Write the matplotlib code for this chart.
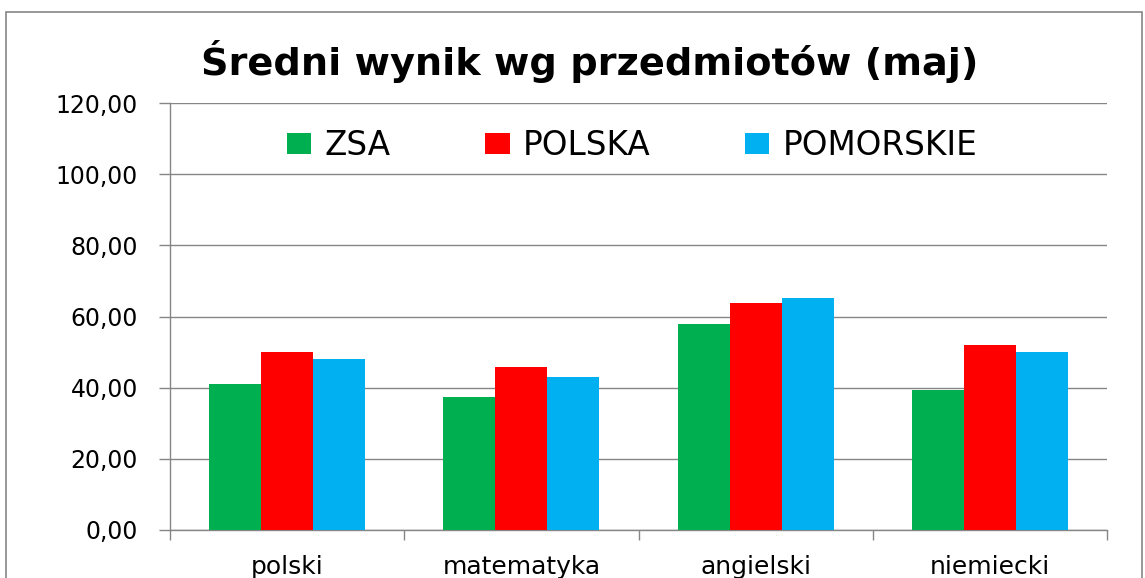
import numpy as np
import matplotlib.pyplot as plt
from matplotlib.patches import Rectangle

# data
przedmioty = ['polski', 'matematyka', 'angielski', 'niemiecki']
serie = ['ZSA', 'POLSKA', 'POMORSKIE']
zsa = [41.0, 37.3, 57.8, 39.4]
polska = [50.0, 45.9, 63.9, 52.0]
pomorskie = [48.1, 43.0, 65.1, 49.9]
kolory = ['#00B050', '#FF0000', '#00B0F0']
y_ticks = [0, 20, 40, 60, 80, 100, 120]

plt.rcParams['font.family'] = ['DejaVu Sans']

W, H = 1145, 578
fig = plt.figure(figsize=(W / 100, H / 100), dpi=100)
ax = fig.add_axes([170 / W, 1 - 530 / H, (1107 - 170) / W, (530 - 103) / H])

x = np.arange(len(przedmioty))
bw = 1 / 4.5
for i, (vals, name) in enumerate(zip([zsa, polska, pomorskie], serie)):
    ax.bar(x + (i - 1) * bw, vals, width=bw, color=kolory[i], label=name,
           linewidth=0, zorder=3)

ax.set_xlim(-0.5, len(przedmioty) - 0.5)
ax.set_ylim(0, 120)
ax.set_yticks(y_ticks)
ax.set_yticklabels([f'{v:.2f}'.replace('.', ',') for v in y_ticks], fontsize=17)
ax.set_xticks(x)
ax.set_xticklabels(przedmioty, fontsize=18)
ax.set_xticks(np.arange(-0.5, len(przedmioty)), minor=True)
ax.tick_params(axis='x', which='major', length=0, pad=18)
ax.tick_params(axis='x', which='minor', length=7, color='#868686', width=1)
ax.tick_params(axis='y', length=8, color='#868686', width=1, pad=15)

ax.yaxis.grid(True, color='#868686', linewidth=1)
ax.set_axisbelow(True)
for s in ['top', 'right']:
    ax.spines[s].set_visible(False)
for s in ['left', 'bottom']:
    ax.spines[s].set_color('#868686')
    ax.spines[s].set_linewidth(1)

leg = ax.legend(loc='center', bbox_to_anchor=((632 - 170) / (1107 - 170), 0.9),
                ncol=3, frameon=False, fontsize=23.5, handlelength=0.75,
                handleheight=0.6, handletextpad=0.4, columnspacing=2.9)

fig.text(590 / W, 1 - 75 / H, 'Średni wynik wg przedmiotów (maj)',
         ha='center', va='baseline', fontsize=27.5, fontweight='bold')

# chart area border
fig.patches.append(Rectangle((6 / W, -0.1), (1142 - 6) / W, 1.1 - 12 / H,
                             transform=fig.transFigure, fill=False,
                             edgecolor='#868686', linewidth=1.2))

fig.savefig('out.png', dpi=100)
